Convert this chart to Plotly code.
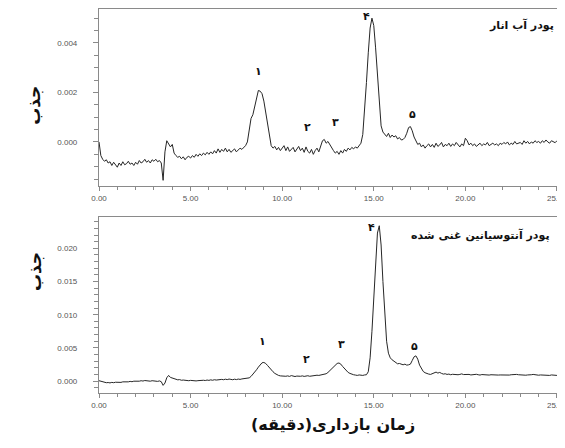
import plotly.graph_objects as go

# Retention time grid (min)
times = [
    0.0, 0.1, 0.2, 0.3, 0.4, 0.5, 0.6, 0.7, 0.8, 0.9,
    1.0, 1.1, 1.2, 1.3, 1.4, 1.5, 1.6, 1.7, 1.8, 1.9,
    2.0, 2.1, 2.2, 2.3, 2.4, 2.5, 2.6, 2.7, 2.8, 2.9,
    3.0, 3.1, 3.2, 3.3, 3.4, 3.5, 3.6, 3.7, 3.8, 3.9,
    4.0, 4.1, 4.2, 4.3, 4.4, 4.5, 4.6, 4.7, 4.8, 4.9,
    5.0, 5.1, 5.2, 5.3, 5.4, 5.5, 5.6, 5.7, 5.8, 5.9,
    6.0, 6.1, 6.2, 6.3, 6.4, 6.5, 6.6, 6.7, 6.8, 6.9,
    7.0, 7.1, 7.2, 7.3, 7.4, 7.5, 7.6, 7.7, 7.8, 7.9,
    8.0, 8.1, 8.2, 8.3, 8.4, 8.5, 8.6, 8.7, 8.8, 8.9,
    9.0, 9.1, 9.2, 9.3, 9.4, 9.5, 9.6, 9.7, 9.8, 9.9,
    10.0, 10.1, 10.2, 10.3, 10.4, 10.5, 10.6, 10.7, 10.8, 10.9,
    11.0, 11.1, 11.2, 11.3, 11.4, 11.5, 11.6, 11.7, 11.8, 11.9,
    12.0, 12.1, 12.2, 12.3, 12.4, 12.5, 12.6, 12.7, 12.8, 12.9,
    13.0, 13.1, 13.2, 13.3, 13.4, 13.5, 13.6, 13.7, 13.8, 13.9,
    14.0, 14.1, 14.2, 14.3, 14.4, 14.5, 14.6, 14.7, 14.8, 14.9,
    15.0, 15.1, 15.2, 15.3, 15.4, 15.5, 15.6, 15.7, 15.8, 15.9,
    16.0, 16.1, 16.2, 16.3, 16.4, 16.5, 16.6, 16.7, 16.8, 16.9,
    17.0, 17.1, 17.2, 17.3, 17.4, 17.5, 17.6, 17.7, 17.8, 17.9,
    18.0, 18.1, 18.2, 18.3, 18.4, 18.5, 18.6, 18.7, 18.8, 18.9,
    19.0, 19.1, 19.2, 19.3, 19.4, 19.5, 19.6, 19.7, 19.8, 19.9,
    20.0, 20.1, 20.2, 20.3, 20.4, 20.5, 20.6, 20.7, 20.8, 20.9,
    21.0, 21.1, 21.2, 21.3, 21.4, 21.5, 21.6, 21.7, 21.8, 21.9,
    22.0, 22.1, 22.2, 22.3, 22.4, 22.5, 22.6, 22.7, 22.8, 22.9,
    23.0, 23.1, 23.2, 23.3, 23.4, 23.5, 23.6, 23.7, 23.8, 23.9,
    24.0, 24.1, 24.2, 24.3, 24.4, 24.5, 24.6, 24.7, 24.8, 24.9,
    25.0, 25.1, 25.2, 25.3,
]

# Pomegranate juice powder absorbance, in mAU (10^-3 AU)
top_mAU = [
    0.00, -0.55, -0.70, -0.78, -0.72, -0.85, -0.80, -0.95, -0.82, -0.90,
    -1.02, -0.85, -0.95, -0.80, -0.92, -0.88, -0.78, -0.90, -0.85, -0.95,
    -0.82, -0.90, -0.75, -0.85, -0.80, -0.70, -0.82, -0.75, -0.85, -0.72,
    -0.78, -0.70, -0.80, -0.75, -0.85, -1.55, -0.40, 0.05, -0.05, -0.20,
    -0.10, -0.45, -0.55, -0.62, -0.58, -0.68, -0.60, -0.72, -0.62, -0.58,
    -0.65, -0.55, -0.62, -0.50, -0.58, -0.48, -0.55, -0.45, -0.52, -0.42,
    -0.50, -0.40, -0.48, -0.35, -0.45, -0.28, -0.42, -0.30, -0.38, -0.25,
    -0.40, -0.30, -0.42, -0.35, -0.28, -0.40, -0.32, -0.25, -0.30, -0.22,
    -0.15, 0.00, 0.40, 0.95, 1.10, 1.45, 1.85, 2.08, 2.05, 1.95,
    1.65, 1.20, 0.75, 0.25, -0.15, -0.25, -0.18, -0.32, -0.22, -0.35,
    -0.25, -0.15, -0.35, -0.20, -0.38, -0.28, -0.22, -0.40, -0.30, -0.18,
    -0.35, -0.25, -0.42, -0.20, -0.38, -0.45, -0.30, -0.50, -0.35, -0.25,
    -0.40, -0.15, 0.05, 0.10, -0.05, 0.02, -0.12, -0.25, -0.35, -0.45,
    -0.38, -0.50, -0.35, -0.45, -0.30, -0.38, -0.25, -0.32, -0.22, -0.28,
    -0.20, -0.25, -0.15, -0.05, 0.30, 1.20, 2.40, 3.60, 4.60, 5.00,
    4.70, 3.80, 2.60, 1.50, 0.65, 0.40, 0.30, 0.22, 0.35, 0.18,
    0.28, 0.20, 0.25, 0.12, 0.18, 0.08, 0.10, 0.18, 0.35, 0.58,
    0.62, 0.45, 0.20, 0.05, -0.10, -0.05, -0.20, -0.12, -0.25, -0.15,
    -0.08, -0.20, -0.10, -0.22, -0.05, -0.18, -0.12, -0.02, -0.20, -0.10,
    -0.15, -0.05, -0.18, -0.08, -0.15, -0.02, -0.12, -0.20, -0.08, -0.15,
    0.15, 0.05, -0.12, -0.05, -0.15, -0.08, -0.18, -0.10, -0.05, -0.15,
    -0.08, -0.12, -0.02, -0.15, -0.10, -0.05, -0.12, -0.08, -0.15, -0.05,
    -0.10, -0.02, -0.08, 0.00, -0.12, -0.05, -0.10, 0.02, -0.08, -0.05,
    -0.02, -0.10, 0.05, -0.05, 0.02, -0.08, 0.00, -0.05, 0.05, -0.02,
    0.02, -0.05, 0.05, -0.02, 0.08, 0.00, -0.05, 0.05, 0.02, -0.03,
    0.05, -0.02, 0.03, 0.00,
]

# Enriched anthocyanin powder absorbance, in mAU (10^-3 AU)
bottom_mAU = [
    0.05, -0.05, -0.15, -0.20, -0.25, -0.22, -0.28, -0.20, -0.25, -0.18,
    -0.22, -0.15, -0.20, -0.12, -0.15, -0.08, -0.12, -0.05, -0.10, -0.02,
    -0.05, 0.02, -0.02, 0.05, 0.00, 0.08, 0.02, 0.05, -0.02, 0.05,
    0.00, 0.05, -0.05, 0.02, -0.10, -0.65, -0.30, 0.50, 0.85, 0.55,
    0.45, 0.30, 0.25, 0.18, 0.22, 0.12, 0.15, 0.08, 0.12, 0.05,
    0.10, 0.05, 0.08, 0.02, 0.06, 0.10, 0.05, 0.12, 0.08, 0.15,
    0.10, 0.18, 0.12, 0.20, 0.15, 0.22, 0.18, 0.25, 0.20, 0.28,
    0.22, 0.30, 0.25, 0.20, 0.28, 0.22, 0.30, 0.25, 0.32, 0.35,
    0.35, 0.40, 0.48, 0.70, 1.00, 1.35, 1.70, 2.10, 2.50, 2.75,
    2.80, 2.65, 2.35, 2.00, 1.70, 1.40, 1.15, 0.95, 0.85, 0.78,
    0.75, 0.80, 0.72, 0.78, 0.70, 0.82, 0.75, 0.68, 0.75, 0.70,
    0.72, 0.78, 0.70, 0.75, 0.80, 0.72, 0.78, 0.85, 0.80, 0.88,
    0.85, 0.90, 0.95, 1.00, 1.10, 1.30, 1.55, 1.85, 2.15, 2.45,
    2.65, 2.72, 2.55, 2.20, 1.90, 1.55, 1.30, 1.15, 1.00, 0.95,
    0.90, 0.85, 0.92, 0.88, 0.85, 0.92, 0.95, 1.40, 3.50, 7.50,
    12.50, 18.00, 22.30, 23.40, 20.50, 15.00, 10.00, 6.00, 4.20, 3.50,
    3.20, 3.00, 2.75, 2.60, 2.65, 2.50, 2.45, 2.55, 2.40, 2.45,
    2.55, 3.10, 3.65, 3.80, 3.30, 2.40, 1.80, 1.45, 1.25, 1.10,
    1.05, 1.00, 1.10, 1.25, 1.35, 1.20, 1.30, 1.15, 1.05, 1.10,
    1.00, 1.05, 0.95, 1.02, 0.98, 1.05, 0.95, 1.00, 1.08, 0.98,
    1.02, 0.95, 1.00, 0.92, 0.98, 0.95, 1.02, 0.95, 0.90, 0.98,
    0.95, 0.92, 0.98, 0.90, 0.95, 0.92, 0.88, 0.95, 0.90, 0.92,
    0.90, 0.95, 0.88, 0.92, 0.90, 0.95, 1.00, 1.05, 1.00, 0.95,
    0.92, 0.95, 0.90, 0.88, 0.92, 0.90, 0.95, 1.00, 0.95, 0.90,
    0.88, 0.92, 0.90, 0.95, 0.88, 0.90, 0.85, 0.92, 0.88, 0.90,
    0.85, 0.90, 0.88, 0.90,
]

# Peak labels (Persian digits) with label positions (min, mAU)
peak_labels = ["۱", "۲", "۳", "۴", "۵"]
top_label_times = [8.7, 11.4, 12.9, 14.6, 17.1]
top_label_heights = [2.83, 0.60, 0.77, 5.05, 1.10]
bottom_label_times = [8.95, 11.34, 13.25, 14.89, 17.25]
bottom_label_heights = [6.0, 3.2, 5.5, 23.2, 5.2]

RLM = "\u200f"
top_title = RLM + "پودر آب انار" + RLM
bottom_title = RLM + "پودر آنتوسیانین غنی شده" + RLM
y_title = RLM + "جذب" + RLM
x_title = RLM + "زمان بازداری(دقیقه)" + RLM

top_abs = [v / 1000 for v in top_mAU]
bottom_abs = [v / 1000 for v in bottom_mAU]

LINE = "#262626"
AX = "#8a8a8a"
TICKFONT = dict(family="Liberation Sans, Arial, sans-serif", size=8, color="#555555")
FA = "DejaVu Sans, sans-serif"
TXT = "#111111"

fig = go.Figure()
fig.add_trace(go.Scatter(x=times, y=top_abs, mode="lines",
                         line=dict(color=LINE, width=1), xaxis="x", yaxis="y",
                         showlegend=False, hoverinfo="skip"))
fig.add_trace(go.Scatter(x=times, y=bottom_abs, mode="lines",
                         line=dict(color=LINE, width=1), xaxis="x2", yaxis="y2",
                         showlegend=False, hoverinfo="skip"))

def xaxis_style(anchor):
    return dict(anchor=anchor, domain=[0, 1], range=[0, 25.33],
                tick0=0, dtick=5, tickformat=".2f", ticks="outside",
                ticklen=4, tickcolor=AX, tickwidth=1, tickfont=TICKFONT,
                ticklabelstandoff=0, ticklabeloverflow="allow", automargin=False,
                minor=dict(dtick=1, ticks="outside", ticklen=3, tickcolor=AX),
                showline=True, linecolor=AX, linewidth=1.2, mirror=True,
                showgrid=False, zeroline=False)

def yaxis_style(anchor, domain, rng, dtick, minor):
    return dict(anchor=anchor, domain=domain, range=rng,
                tick0=0, dtick=dtick, tickformat=".3f", ticks="outside",
                ticklen=5, tickcolor=AX, tickwidth=1, tickfont=TICKFONT,
                ticklabelstandoff=14, ticklabeloverflow="allow", automargin=False,
                minor=dict(dtick=minor, ticks="outside", ticklen=4, tickcolor=AX),
                showline=True, linecolor=AX, linewidth=1.2, mirror=True,
                showgrid=False, zeroline=False)

annotations = []
for lab, t, h in zip(peak_labels, top_label_times, top_label_heights):
    annotations.append(dict(x=t, y=h / 1000, xref="x", yref="y", text=lab,
                            showarrow=False,
                            font=dict(family=FA, size=11, color=TXT, weight="bold")))
for lab, t, h in zip(peak_labels, bottom_label_times, bottom_label_heights):
    annotations.append(dict(x=t, y=h / 1000, xref="x2", yref="y2", text=lab,
                            showarrow=False,
                            font=dict(family=FA, size=11, color=TXT, weight="bold")))

annotations += [
    dict(x=0.985, y=0.958, xref="paper", yref="paper", text=top_title,
         xanchor="right", yanchor="middle", showarrow=False,
         font=dict(family=FA, size=11, color=TXT, weight="bold")),
    dict(x=0.976, y=0.411, xref="paper", yref="paper", text=bottom_title,
         xanchor="right", yanchor="middle", showarrow=False,
         font=dict(family=FA, size=11, color=TXT, weight="bold")),
    dict(x=-0.165, y=0.805, xref="paper", yref="paper", text=y_title,
         textangle=-90, showarrow=False,
         font=dict(family=FA, size=17, color=TXT, weight="bold")),
    dict(x=-0.165, y=0.26, xref="paper", yref="paper", text=y_title,
         textangle=-90, showarrow=False,
         font=dict(family=FA, size=17, color=TXT, weight="bold")),
    dict(x=0.505, y=-0.112, xref="paper", yref="paper", text=x_title,
         showarrow=False,
         font=dict(family=FA, size=16, color=TXT, weight="bold")),
]

# The page body adds an 8 px offset; margins are set so the plot boxes land
# where the reference shows them.
fig.update_layout(
    width=565, height=440,
    margin=dict(l=91, r=10, t=1, b=55),
    paper_bgcolor="white", plot_bgcolor="white",
    xaxis=xaxis_style("y"),
    yaxis=yaxis_style("x", [0.539, 1.0], [-0.00178, 0.00537], 0.002, 0.0005),
    xaxis2=xaxis_style("y2"),
    yaxis2=yaxis_style("x2", [0.0, 0.458], [-0.0018, 0.0247], 0.005, 0.001),
    annotations=annotations,
)

fig.write_html("out.html")
